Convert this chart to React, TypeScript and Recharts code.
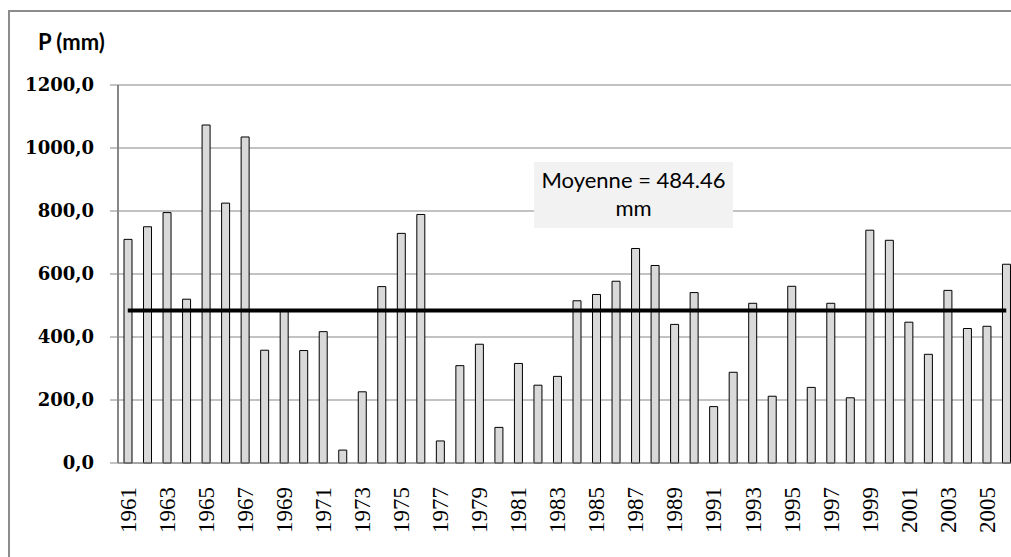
import React from 'react';
import {
  ComposedChart,
  Bar,
  Line,
  XAxis,
  YAxis,
  CartesianGrid
} from 'recharts';

const years = [
  1961, 1962, 1963, 1964, 1965, 1966, 1967, 1968, 1969, 1970,
  1971, 1972, 1973, 1974, 1975, 1976, 1977, 1978, 1979, 1980,
  1981, 1982, 1983, 1984, 1985, 1986, 1987, 1988, 1989, 1990,
  1991, 1992, 1993, 1994, 1995, 1996, 1997, 1998, 1999, 2000,
  2001, 2002, 2003, 2004, 2005, 2006
];

// annual precipitation P (mm)
const precipitation = [
  710, 750, 795, 520, 1073, 825, 1035, 358, 485, 357,
  417, 41, 226, 560, 729, 789, 70, 309, 377, 113,
  316, 247, 275, 515, 535, 577, 681, 627, 440, 541,
  179, 288, 507, 212, 561, 240, 507, 207, 739, 707,
  447, 345, 548, 427, 434, 631
];

const meanValue = 484.46;
const yTicks = [0, 200, 400, 600, 800, 1000, 1200];

const data = years.map((year, i) => ({
  year: String(year),
  p: precipitation[i],
  mean: meanValue
}));

const YearTick = ({ x, y, payload }: any) => (
  <g transform={`translate(${x},${y})`}>
    <text
      transform="rotate(-90)"
      x={-16}
      dy="0.35em"
      textAnchor="end"
      fontFamily="'Liberation Serif', serif"
      fontSize={23}
      fill="#000"
    >
      {payload.value}
    </text>
  </g>
);

export default function App() {
  return (
    <div style={{ position: 'relative', width: 1011, height: 557, overflow: 'hidden', background: '#fff' }}>
      <style>{'html,body{margin:0;padding:0;overflow:hidden}'}</style>
      <div
        style={{
          position: 'absolute',
          left: 8,
          top: 10,
          width: 1100,
          height: 700,
          borderLeft: '2px solid #8c8c8c',
          borderTop: '2px solid #8c8c8c',
          boxSizing: 'border-box'
        }}
      />
      <div
        style={{
          position: 'absolute',
          left: 38,
          top: 31,
          fontFamily: 'Lato, sans-serif',
          fontWeight: 700,
          fontSize: 22,
          lineHeight: '22px',
          color: '#000',
          whiteSpace: 'nowrap'
        }}
      >
        P (mm)
      </div>
      <div style={{ position: 'absolute', left: 8, top: 8 }}>
        <ComposedChart
          width={1030}
          height={549}
          data={data}
          margin={{ top: 77, right: 22, bottom: 0, left: 0 }}
          barCategoryGap={0}
        >
          <CartesianGrid horizontal vertical={false} stroke="#868686" />
          <XAxis
            dataKey="year"
            interval={1}
            height={94}
            tickLine={false}
            tickSize={0}
            tickMargin={8}
            axisLine={{ stroke: '#868686', strokeWidth: 1 }}
            tick={<YearTick />}
          />
          <YAxis
            width={110}
            domain={[0, 1200]}
            ticks={yTicks}
            tickSize={8}
            tickMargin={16}
            axisLine={{ stroke: '#868686', strokeWidth: 2 }}
            tickLine={{ stroke: '#868686' }}
            tick={{ fontFamily: "'DejaVu Serif', serif", fontWeight: 700, fontSize: 18, fill: '#000' }}
            tickFormatter={(v: number) => v.toFixed(1).replace('.', ',')}
          />
          <Bar
            dataKey="p"
            barSize={8}
            fill="#d9d9d9"
            stroke="#000"
            strokeWidth={1}
            isAnimationActive={false}
          />
          <Line
            dataKey="mean"
            stroke="#000"
            strokeWidth={4}
            dot={false}
            activeDot={false}
            isAnimationActive={false}
          />
        </ComposedChart>
      </div>
      <div
        style={{
          position: 'absolute',
          left: 534,
          top: 162,
          width: 199,
          height: 66,
          boxSizing: 'border-box',
          paddingTop: 4,
          background: '#f2f2f2',
          fontFamily: 'Lato, sans-serif',
          fontSize: 22,
          lineHeight: '28px',
          textAlign: 'center',
          color: '#000',
          whiteSpace: 'nowrap'
        }}
      >
        Moyenne = 484.46
        <br />
        mm
      </div>
    </div>
  );
}
